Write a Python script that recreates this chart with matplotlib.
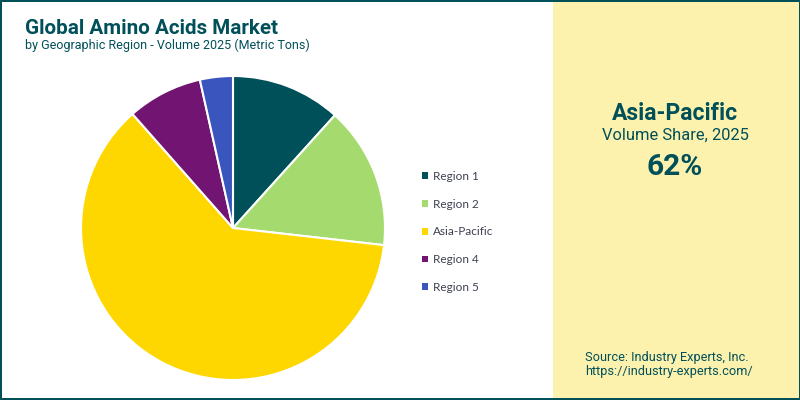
import matplotlib
matplotlib.use('Agg')
import matplotlib.pyplot as plt
from matplotlib.patches import Rectangle

labels = ['Region 1', 'Region 2', 'Asia-Pacific', 'Region 4', 'Region 5']
shares = [11.7, 15.1, 61.7, 8.0, 3.5]
colors = ['#00505A', '#A5DB6E', '#FFD700', '#721572', '#3A55BE']

teal = '#00505A'
W, H = 800, 400

fig = plt.figure(figsize=(8, 4), dpi=100, facecolor='white')

# full-figure axes in pixel coords for panel, border and text
bg = fig.add_axes([0, 0, 1, 1])
bg.set_xlim(0, W)
bg.set_ylim(H, 0)
bg.axis('off')
bg.add_patch(Rectangle((553, 0), W - 553, H, fc='#FDF1AE', ec='none'))
# frame
bg.add_patch(Rectangle((0, 0), W, 2, fc=teal, ec='none'))
bg.add_patch(Rectangle((0, 0), 2, H, fc=teal, ec='none'))
bg.add_patch(Rectangle((0, 398), W, 2, fc=teal, ec='none'))
bg.add_patch(Rectangle((798.5, 0), 1.5, H, fc=teal, ec='none'))

bg.text(25, 28, 'Global Amino Acids Market', family='Roboto', weight='bold',
        fontsize=14.9, color=teal, va='center', ha='left')
bg.text(25, 45, 'by Geographic Region - Volume 2025 (Metric Tons)', family='Roboto',
        fontsize=9.0, color=teal, va='center', ha='left')

bg.text(675, 114, 'Asia-Pacific', family='Roboto', weight='bold', fontsize=16.5,
        color=teal, va='center', ha='center')
bg.text(675, 135, 'Volume Share, 2025', family='Roboto', fontsize=11.9,
        color=teal, va='center', ha='center')
bg.text(675, 167, '62%', family='Roboto', weight='bold', fontsize=21.5,
        color=teal, va='center', ha='center')

bg.text(585, 357, 'Source: Industry Experts, Inc.', family='Roboto', fontsize=9.2,
        color=teal, va='center', ha='left')
bg.text(585, 371.5, 'https://industry-experts.com/', family='Roboto', fontsize=9.2,
        color=teal, va='center', ha='left')

# pie
ax = fig.add_axes([81 / W, 1 - 380 / H, 304 / W, 304 / H])
wedges, _ = ax.pie(shares, colors=colors, startangle=90, counterclock=False, radius=1,
                   wedgeprops={'edgecolor': 'white', 'linewidth': 1.5})
ax.set_xlim(-1, 1)
ax.set_ylim(-1, 1)

leg = fig.legend(wedges, labels, loc='center left', bbox_to_anchor=(422.5 / W, 1 - 232 / H),
                 frameon=False, prop={'family': 'Lato', 'size': 8.5}, labelcolor='#3E4152',
                 handlelength=0.5, handleheight=0.5, handletextpad=0.35, labelspacing=1.42,
                 borderpad=0, borderaxespad=0)
for h in leg.legend_handles:
    h.set_edgecolor('none')

fig.savefig('out.png', dpi=100, facecolor='white')
